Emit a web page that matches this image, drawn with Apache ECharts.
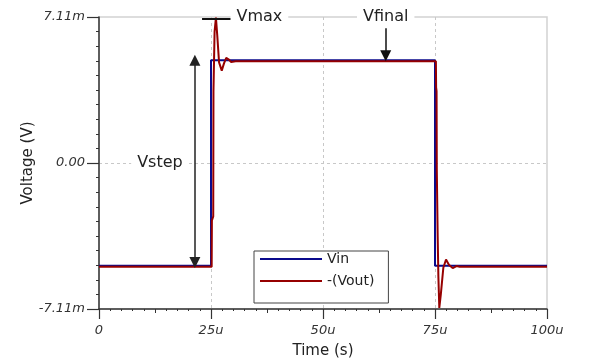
<!DOCTYPE html>
<html><head><meta charset="utf-8">
<script src="https://cdn.jsdelivr.net/npm/echarts/dist/echarts.min.js"></script>
<style>html,body{margin:0;padding:0;background:#fff}#c{width:600px;height:363px}</style>
</head><body><div id="c"></div>
<script>
// ---- data ----
const seriesNames = ['Vin', '-(Vout)'];
const vinTime  = [0, 25, 25, 75, 75, 100];
const vinValue = [-5, -5, 5, 5, -5, -5];
const voutTime  = [0, 25.15, 25.2, 25.5, 25.55, 25.8, 26.1, 26.4, 26.8, 27.4, 27.9, 28.4, 28.9, 29.5, 30.5,
                   75.2, 75.25, 75.35, 75.4, 75.6, 75.75, 75.96, 76.3, 76.86, 77.46, 78.1, 78.95, 79.8, 80.5, 100];
const voutValue = [-5.05, -5.05, -2.8, -2.6, 3.5, 6.4, 7.08, 6.2, 4.9, 4.5, 4.85, 5.12, 5.05, 4.92, 4.95,
                   4.95, 3.68, 3.5, -0.3, -3.6, -5.5, -7.06, -6.4, -5.1, -4.7, -4.95, -5.12, -5.02, -5.05, -5.05];
const xTickValues = [0, 25, 50, 75, 100];
const xTickLabels = ['0', '25u', '50u', '75u', '100u'];
const yTickValues = [-7.11, 0, 7.11];
const yTickLabels = ['-7.11m', '0.00', '7.11m'];
const annoTextNames = ['Vmax', 'Vfinal', 'Vstep'];
const annoTextCoords = [[35.8, 7.11], [64, 7.11], [13.6, 0]];
const vmaxBar = [[23, 7.03], [29.7, 7.03]];
const vfinalArrow = [[64, 6.56], [64, 5.22]];
const vstepArrow = [[21.4, -4.84], [21.4, 5.0]];

// ---- chart ----
const FONT = 'DejaVu Sans';
const zip = (t, v) => t.map((x, i) => [x, v[i]]);
const nearestLabel = (vals, labels, v) => {
  let best = 0;
  vals.forEach((x, i) => { if (Math.abs(x - v) < Math.abs(vals[best] - v)) best = i; });
  return Math.abs(vals[best] - v) < 1e-6 ? labels[best] : '';
};
const chart = echarts.init(document.getElementById('c'), null, {renderer: 'canvas'});
chart.setOption({
  animation: false,
  backgroundColor: '#fff',
  grid: {left: 99, right: 53, top: 17, bottom: 54, show: true, borderColor: '#d2d2d2', borderWidth: 1.5,
         outerBoundsMode: 'none', containLabel: false},
  legend: {
    data: seriesNames, orient: 'vertical', left: 254, top: 251,
    icon: 'rect', itemWidth: 62, itemHeight: 2, itemGap: 6,
    padding: [0, 14, 14, 6], borderColor: '#444', borderWidth: 1, backgroundColor: '#fff',
    textStyle: {fontFamily: FONT, fontSize: 14, lineHeight: 16, color: '#222'},
    selectedMode: false
  },
  xAxis: [{
    type: 'value', min: 0, max: 100, interval: 25,
    name: 'Time (s)', nameLocation: 'middle', nameGap: 35, nameMoveOverlap: false,
    nameTextStyle: {fontFamily: FONT, fontSize: 15, color: '#222'},
    axisLine: {onZero: false, lineStyle: {color: '#333', width: 1.5}},
    axisTick: {length: 10, lineStyle: {color: '#333', width: 1.2}},
    minorTick: {show: true, splitNumber: 10, length: 2, lineStyle: {color: '#333', width: 1}},
    axisLabel: {margin: 15, fontFamily: FONT, fontStyle: 'italic', fontSize: 13, color: '#333',
                formatter: v => nearestLabel(xTickValues, xTickLabels, v)},
    splitLine: {show: true, showMinLine: false, showMaxLine: false, lineStyle: {color: '#c8c8c8', type: [3, 3], width: 1}}
  }, {
    type: 'value', min: 0, max: 100, interval: 12.5, position: 'bottom',
    axisLine: {show: false, onZero: false}, axisLabel: {show: false}, splitLine: {show: false},
    axisTick: {length: 4, lineStyle: {color: '#333', width: 1}}
  }],
  yAxis: {
    type: 'value', min: -7.11, max: 7.11, interval: 7.11,
    name: 'Voltage (V)', nameLocation: 'middle', nameGap: 63, nameRotate: 90, nameMoveOverlap: false,
    nameTextStyle: {fontFamily: FONT, fontSize: 15, color: '#222'},
    axisLine: {show: true, onZero: false, lineStyle: {color: '#333', width: 1.5}},
    axisTick: {show: true, length: 12, lineStyle: {color: '#333', width: 1.2}},
    minorTick: {show: true, splitNumber: 10, length: 3, lineStyle: {color: '#333', width: 1}},
    axisLabel: {margin: 14, fontFamily: FONT, fontStyle: 'italic', fontSize: 13, color: '#333',
                formatter: v => nearestLabel(yTickValues, yTickLabels, v)},
    splitLine: {show: true, showMinLine: false, showMaxLine: false, lineStyle: {color: '#c8c8c8', type: [3, 3], width: 1}}
  },
  series: [{
    name: seriesNames[0], type: 'line', data: zip(vinTime, vinValue), showSymbol: false,
    lineStyle: {color: '#0a0a8c', width: 2}, itemStyle: {color: '#0a0a8c'}, z: 3,
    markLine: {
      silent: true, symbolSize: 11, label: {show: false}, animation: false,
      data: [
        [{coord: vmaxBar[0], symbol: 'none', lineStyle: {color: '#111', width: 2, type: 'solid'}},
         {coord: vmaxBar[1], symbol: 'none'}],
        [{coord: vfinalArrow[0], symbol: 'none', lineStyle: {color: '#111', width: 1.5, type: 'solid'}},
         {coord: vfinalArrow[1], symbol: 'triangle'}],
        [{coord: vstepArrow[0], symbol: 'triangle', lineStyle: {color: '#222', width: 1.5, type: 'solid'}},
         {coord: vstepArrow[1], symbol: 'triangle'}]
      ],
      itemStyle: {color: '#111'}
    },
    markPoint: {
      silent: true, symbol: 'rect', symbolSize: 1, itemStyle: {color: 'rgba(0,0,0,0)'},
      label: {show: true, position: 'inside', formatter: '{b}', fontFamily: FONT, fontSize: 16,
              color: '#222', backgroundColor: '#fff', padding: [1, 6]},
      data: annoTextNames.map((n, i) => ({name: n, coord: annoTextCoords[i]}))
    }
  }, {
    name: seriesNames[1], type: 'line', data: zip(voutTime, voutValue), showSymbol: false,
    lineStyle: {color: '#960000', width: 2}, itemStyle: {color: '#960000'}, z: 4
  }]
});
</script>
</body></html>
